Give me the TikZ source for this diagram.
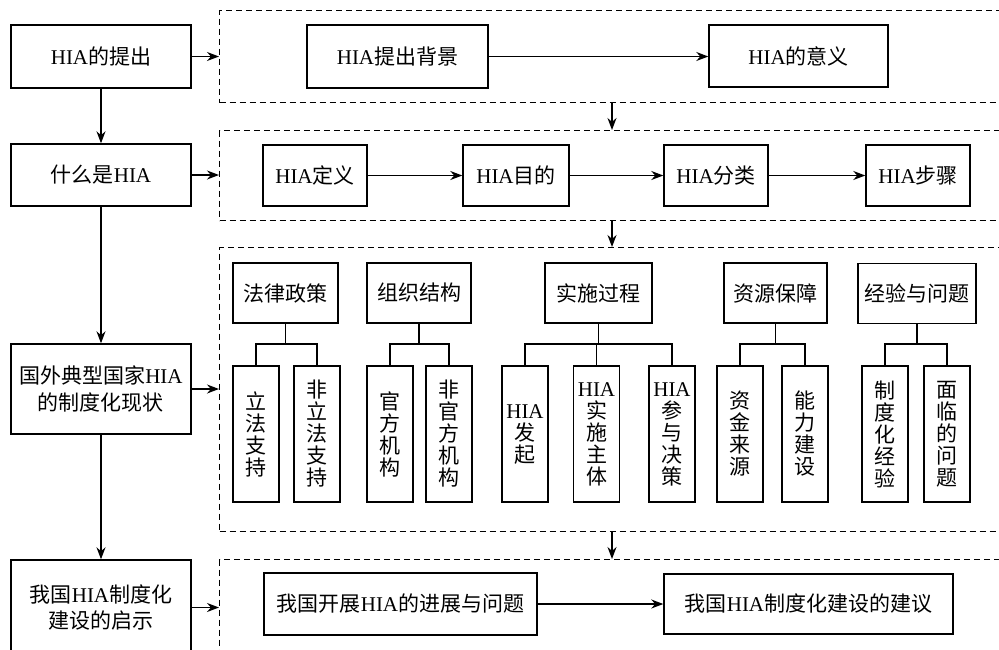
\documentclass[tikz,border=0pt]{standalone}
\usepackage{fontspec}
\setmainfont{Liberation Serif}
\newfontfamily\cjk{Noto Sans CJK SC}
\newcommand\zh[1]{{\cjk #1}}
\usetikzlibrary{arrows.meta}
\begin{document}
\begin{tikzpicture}[x=1pt,y=-1pt,
 box/.style={draw, line width=1.4pt, inner sep=0pt, align=center, font=\fontsize{21}{26}\selectfont},
 vbox/.style={box, minimum width=46pt, minimum height=136pt, font=\fontsize{21}{22}\selectfont},
 frame/.style={draw, dash pattern=on 6pt off 4pt, line width=1.3pt, anchor=north west, inner sep=0pt, minimum width=800pt},
 arr/.style={-{Stealth[length=12pt,width=9pt]}, line width=1.4pt},
 tree/.style={line width=1.4pt}]
\useasboundingbox (0,0) rectangle (999,649);
\clip (0,0) rectangle (999,649);
% frames
\node[frame, minimum height=92pt] (f1) at (219,10) {};
\node[frame, minimum height=90pt] (f2) at (219,130) {};
\node[frame, minimum height=284pt] (f3) at (219,247) {};
\node[frame, minimum height=150pt] (f4) at (219,559) {};
% left column
\node[box, minimum width=180pt, minimum height=63pt] (l1) at (101,56.5) {HIA\zh{的提出}};
\node[box, minimum width=180pt, minimum height=62pt] (l2) at (101,175) {\zh{什么是}HIA};
\node[box, minimum width=180pt, minimum height=90pt, font=\fontsize{21}{27}\selectfont] (l3) at (101,389) {\zh{国外典型国家}HIA\\\zh{的制度化现状}};
\node[box, minimum width=180pt, minimum height=95pt] (l4) at (101,607.5) {\zh{我国}HIA\zh{制度化}\\\zh{建设的启示}};
\draw[arr] (l1) -- (l2);
\draw[arr] (l2) -- (l3);
\draw[arr] (l3) -- (l4);
\draw[arr] (l1.east) -- (l1.east -| f1.west);
\draw[arr] (l2.east) -- (l2.east -| f2.west);
\draw[arr] (l3.east) -- (l3.east -| f3.west);
\draw[arr] (l4.east) -- (l4.east -| f4.west);
% frame arrows
\coordinate (dx) at (612,0);
\draw[arr] (f1.south -| dx) -- (f2.north -| dx);
\draw[arr] (f2.south -| dx) -- (f3.north -| dx);
\draw[arr] (f3.south -| dx) -- (f4.north -| dx);
% row 1
\node[box, minimum width=181pt, minimum height=63pt] (a1) at (397.5,56.5) {HIA\zh{提出背景}};
\node[box, minimum width=179pt, minimum height=62pt] (a2) at (798.5,56) {HIA\zh{的意义}};
\draw[arr] (a1.east) -- (a1.east -| a2.west);
% row 2
\node[box, minimum width=104pt, minimum height=61pt] (b1) at (315,175.5) {HIA\zh{定义}};
\node[box, minimum width=106pt, minimum height=61pt] (b2) at (516,175.5) {HIA\zh{目的}};
\node[box, minimum width=104pt, minimum height=61pt] (b3) at (716,175.5) {HIA\zh{分类}};
\node[box, minimum width=104pt, minimum height=61pt] (b4) at (918,175.5) {HIA\zh{步骤}};
\draw[arr] (b1) -- (b2);
\draw[arr] (b2) -- (b3);
\draw[arr] (b3) -- (b4);
% row 3 parents
\node[box, minimum width=105pt, minimum height=60pt] (p1) at (285.5,293) {\zh{法律政策}};
\node[box, minimum width=104pt, minimum height=60pt] (p2) at (419,293) {\zh{组织结构}};
\node[box, minimum width=107pt, minimum height=60pt] (p3) at (598.5,293) {\zh{实施过程}};
\node[box, minimum width=103pt, minimum height=60pt] (p4) at (775.5,293) {\zh{资源保障}};
\node[box, minimum width=118pt, minimum height=60pt] (p5) at (917,293.5) {\zh{经验与问题}};
% children
\node[vbox] (c11) at (256,434) {\zh{立}\\\zh{法}\\\zh{支}\\\zh{持}};
\node[vbox] (c12) at (317,434) {\zh{非}\\\zh{立}\\\zh{法}\\\zh{支}\\\zh{持}};
\node[vbox] (c21) at (390,434) {\zh{官}\\\zh{方}\\\zh{机}\\\zh{构}};
\node[vbox] (c22) at (449,434) {\zh{非}\\\zh{官}\\\zh{方}\\\zh{机}\\\zh{构}};
\node[vbox] (c31) at (525,434) {HIA\\\zh{发}\\\zh{起}};
\node[vbox] (c32) at (596.5,434) {HIA\\\zh{实}\\\zh{施}\\\zh{主}\\\zh{体}};
\node[vbox] (c33) at (672,434) {HIA\\\zh{参}\\\zh{与}\\\zh{决}\\\zh{策}};
\node[vbox] (c41) at (740,434) {\zh{资}\\\zh{金}\\\zh{来}\\\zh{源}};
\node[vbox] (c42) at (805,434) {\zh{能}\\\zh{力}\\\zh{建}\\\zh{设}};
\node[vbox] (c51) at (885,434) {\zh{制}\\\zh{度}\\\zh{化}\\\zh{经}\\\zh{验}};
\node[vbox] (c52) at (947,434) {\zh{面}\\\zh{临}\\\zh{的}\\\zh{问}\\\zh{题}};
% tree connectors
\coordinate (bar) at (0,344);
\draw[tree] (p1.south) -- (p1.south |- bar);
\draw[tree] (c11.north) |- (c12.north |- bar) -- (c12.north);
\draw[tree] (p2.south) -- (p2.south |- bar);
\draw[tree] (c21.north) |- (c22.north |- bar) -- (c22.north);
\draw[tree] (p3.south) -- (p3.south |- bar);
\draw[tree] (c31.north) |- (c33.north |- bar) -- (c33.north);
\draw[tree] (c32.north) -- (c32.north |- bar);
\draw[tree] (p4.south) -- (p4.south |- bar);
\draw[tree] (c41.north) |- (c42.north |- bar) -- (c42.north);
\draw[tree] (p5.south) -- (p5.south |- bar);
\draw[tree] (c51.north) |- (c52.north |- bar) -- (c52.north);
% row 4
\node[box, minimum width=273pt, minimum height=62pt] (q1) at (400.5,604) {\zh{我国开展}HIA\zh{的进展与问题}};
\node[box, minimum width=289pt, minimum height=60pt] (q2) at (808.5,604) {\zh{我国}HIA\zh{制度化建设的建议}};
\draw[arr] (q1) -- (q2);
\end{tikzpicture}
\end{document}
